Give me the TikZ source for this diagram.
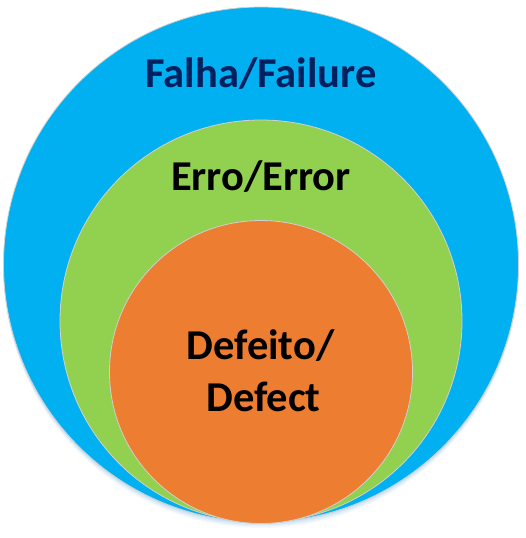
\documentclass[tikz,border=0pt]{standalone}
\usepackage{fontspec}
\setmainfont{Carlito}
\definecolor{blueC}{HTML}{00B0F0}
\definecolor{greenC}{HTML}{92D050}
\definecolor{orangeC}{HTML}{ED7D31}
\definecolor{navyT}{HTML}{002060}
\definecolor{rimC}{HTML}{D0D0D0}
\definecolor{shadowC}{HTML}{9CC3E6}
\tikzset{
  ring/.style={draw=rimC, line width=0.8pt},
  lbl/.style={font=\fontsize{42.5}{50}\selectfont\bfseries, inner sep=0pt, align=center},
}
\begin{document}
\begin{tikzpicture}[x=1pt,y=-1pt]
\useasboundingbox (0,0) rectangle (525,538);
% soft shadow
\foreach \d/\o in {6/0.10,4.5/0.15,3/0.2,1.5/0.25}{
  \fill[shadowC, opacity=\o] (261,264.5+\d) circle (257.5);
}
\node[circle, fill=blueC, ring, minimum size=515pt, inner sep=0pt] (outer) at (261,264.5) {};
\node[circle, fill=greenC, ring, minimum size=402pt, inner sep=0pt] (mid) at (261,321) {};
\node[circle, fill=orangeC, ring, minimum size=303pt, inner sep=0pt] (inner) at (261,372) {};
\node[lbl, text=navyT, anchor=base] (tfail) at (261,87) {Falha/Failure};
\node[lbl, text=black, anchor=base] (terr) at (261,190) {Erro/Error};
\node[lbl, text=black, anchor=base] (tdef1) at (260.5,359) {Defeito/};
\node[lbl, text=black, anchor=base] (tdef2) at (263.5,411) {Defect};
\end{tikzpicture}
\end{document}
